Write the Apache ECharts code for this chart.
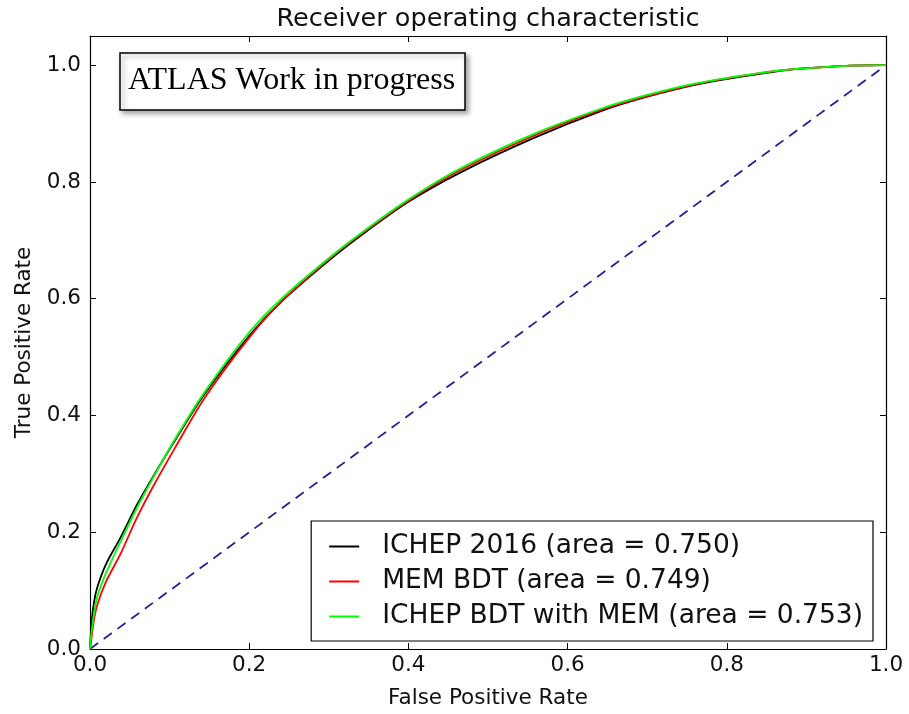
<!DOCTYPE html>
<html>
<head>
<meta charset="utf-8">
<script src="https://cdn.jsdelivr.net/npm/echarts@6/dist/echarts.min.js"></script>
<style>
  html, body { margin: 0; padding: 0; background: #fff; }
  #chart { width: 909px; height: 714px; }
</style>
</head>
<body>
<div id="chart"></div>
<script>
// False positive rate sampling points shared by the three ROC curves
const fpr = [0, 0.002, 0.005, 0.009, 0.02, 0.038, 0.059, 0.08, 0.107, 0.144, 0.201, 0.242,
             0.305, 0.348, 0.4, 0.465, 0.557, 0.641, 0.70, 0.766, 0.85, 0.892, 0.95, 1.0];

// True positive rates for each classifier
const tprIchep2016 = [0, 0.045, 0.08, 0.105, 0.145, 0.19, 0.247, 0.297, 0.358, 0.437, 0.538, 0.597,
                      0.671, 0.716, 0.766, 0.816, 0.875, 0.921, 0.946, 0.968, 0.987, 0.994, 0.999, 1.0];
const tprMemBdt    = [0, 0.02, 0.05, 0.075, 0.115, 0.162, 0.225, 0.28, 0.345, 0.43, 0.535, 0.597,
                      0.673, 0.718, 0.768, 0.820, 0.879, 0.923, 0.947, 0.969, 0.988, 0.994, 0.999, 1.0];
const tprIchepMem  = [0, 0.03, 0.06, 0.089, 0.13, 0.183, 0.242, 0.295, 0.36, 0.44, 0.544, 0.602,
                      0.675, 0.72, 0.77, 0.823, 0.882, 0.925, 0.949, 0.970, 0.988, 0.994, 0.999, 1.0];

// Chance line
const chance = [[0, 0], [1, 1]];

const seriesNames = [
  'ICHEP 2016 (area = 0.750)',
  'MEM BDT (area = 0.749)',
  'ICHEP BDT with MEM (area = 0.753)'
];
const seriesColors = ['#000000', '#ff0000', '#00ff00'];
const yTicks = [0, 0.2, 0.4, 0.6, 0.8, 1.0];

const pairs = (xs, ys) => xs.map((x, i) => [x, ys[i]]);

const font = 'DejaVu Sans';
const chart = echarts.init(document.getElementById('chart'), null, { renderer: 'canvas' });

const axisCommon = {
  axisLine: { show: true, onZero: false, lineStyle: { color: '#000', width: 1.2 } },
  axisTick: { show: true, inside: true, length: 6, lineStyle: { color: '#000', width: 1 } },
  splitLine: { show: false }
};

chart.setOption({
  animation: false,
  backgroundColor: '#ffffff',
  title: [
    {
      text: 'Receiver operating characteristic',
      left: 483, top: 1, textAlign: 'center',
      textStyle: { fontFamily: font, fontSize: 25.5, fontWeight: 'normal', color: '#111' }
    },
    {
      text: 'ATLAS Work in progress',
      left: 120, top: 53,
      padding: [10, 10, 11, 8],
      backgroundColor: '#fff',
      borderColor: '#000', borderWidth: 1.5,
      shadowColor: 'rgba(0,0,0,0.35)', shadowBlur: 5, shadowOffsetX: 3, shadowOffsetY: 3,
      textStyle: { fontFamily: 'Liberation Serif', fontSize: 32, fontWeight: 'normal', color: '#000', lineHeight: 36 }
    }
  ],
  grid: { left: 90, right: 23, top: 36, bottom: 62, containLabel: false },
  legend: {
    data: seriesNames,
    orient: 'vertical',
    right: 36, bottom: 73,
    padding: [12, 10, 11, 17],
    itemWidth: 30, itemHeight: 2, itemGap: 8,
    borderColor: '#000', borderWidth: 1.2, backgroundColor: '#fff',
    textStyle: { fontFamily: font, fontSize: 26.5, color: '#111', lineHeight: 26, padding: [0, 0, 0, 18] }
  },
  xAxis: [
    Object.assign({}, axisCommon, {
      type: 'value', min: 0, max: 1, interval: 0.2, position: 'bottom',
      name: 'False Positive Rate', nameLocation: 'middle', nameGap: 38,
      nameTextStyle: { fontFamily: font, fontSize: 21.5, color: '#111' },
      axisLabel: { fontFamily: font, fontSize: 21.5, color: '#111', margin: 5,
                   formatter: v => v.toFixed(1) }
    }),
    Object.assign({}, axisCommon, {
      type: 'value', min: 0, max: 1, interval: 0.2, position: 'top',
      axisLabel: { show: false }
    })
  ],
  yAxis: [
    Object.assign({}, axisCommon, {
      type: 'value', min: 0, max: 1.05, position: 'left',
      name: 'True Positive Rate', nameLocation: 'middle', nameGap: 54,
      nameTextStyle: { fontFamily: font, fontSize: 21.5, color: '#111' },
      axisTick: Object.assign({}, axisCommon.axisTick, { customValues: yTicks }),
      axisLabel: { fontFamily: font, fontSize: 21.5, color: '#111', margin: 9,
                   customValues: yTicks, formatter: v => v.toFixed(1) }
    }),
    Object.assign({}, axisCommon, {
      type: 'value', min: 0, max: 1.05, position: 'right',
      axisTick: Object.assign({}, axisCommon.axisTick, { customValues: yTicks }),
      axisLabel: { show: false, customValues: yTicks }
    })
  ],
  series: [
    {
      name: 'chance', type: 'line', data: chance, symbol: 'none', silent: true,
      lineStyle: { color: '#22229a', width: 1.8, type: [10, 7] }, z: 1
    },
    {
      name: seriesNames[0], type: 'line', data: pairs(fpr, tprIchep2016), symbol: 'none', smooth: 0.3,
      lineStyle: { color: seriesColors[0], width: 1.8 }, itemStyle: { color: seriesColors[0] }, z: 2
    },
    {
      name: seriesNames[1], type: 'line', data: pairs(fpr, tprMemBdt), symbol: 'none', smooth: 0.3,
      lineStyle: { color: seriesColors[1], width: 1.8 }, itemStyle: { color: seriesColors[1] }, z: 3
    },
    {
      name: seriesNames[2], type: 'line', data: pairs(fpr, tprIchepMem), symbol: 'none', smooth: 0.3,
      lineStyle: { color: seriesColors[2], width: 1.8 }, itemStyle: { color: seriesColors[2] }, z: 4
    }
  ]
});
</script>
</body>
</html>
